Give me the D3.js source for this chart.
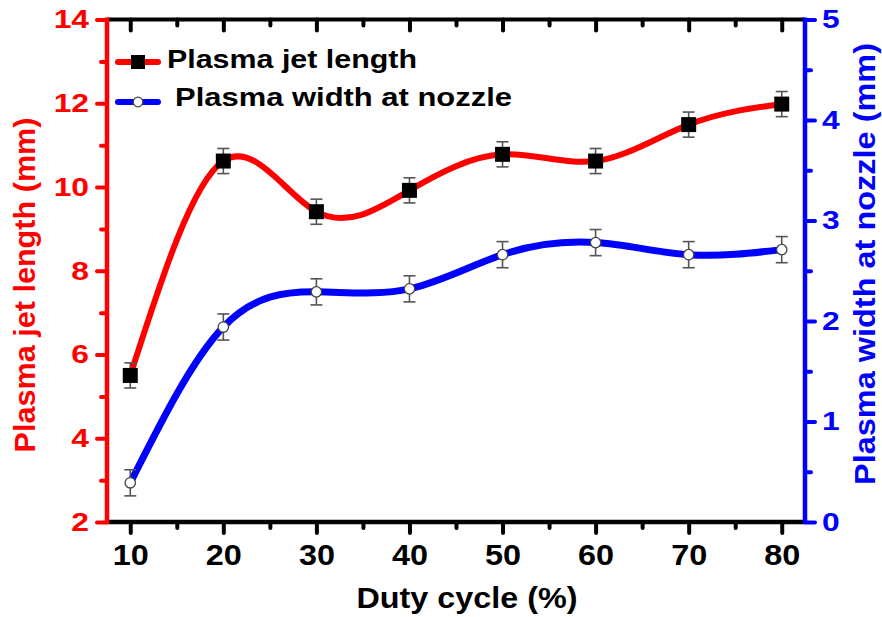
<!DOCTYPE html>
<html><head><meta charset="utf-8">
<script src="https://cdn.jsdelivr.net/npm/d3@7"></script>
<style>body{margin:0;background:#fff}svg{display:block}text{font-family:"Liberation Sans",Arial,sans-serif;font-weight:bold}</style>
</head><body><svg id="c" width="882" height="617"></svg>
<script>
const dutyCycle = [10, 20, 30, 40, 50, 60, 70, 80];
const jetLength = [5.5, 10.62, 9.41, 9.92, 10.78, 10.62, 11.49, 11.98];
const jetLengthErr = [0.3, 0.3, 0.3, 0.3, 0.3, 0.3, 0.3, 0.3];
const nozzleWidth = [0.39, 1.94, 2.29, 2.32, 2.66, 2.78, 2.66, 2.71];
const nozzleWidthErr = [0.13, 0.13, 0.13, 0.13, 0.13, 0.13, 0.13, 0.13];
const xTicks = [10, 20, 30, 40, 50, 60, 70, 80];
const leftTicks = [2, 4, 6, 8, 10, 12, 14];
const rightTicks = [0, 1, 2, 3, 4, 5];
const seriesNames = ["Plasma jet length", "Plasma width at nozzle"];
const xTitle = "Duty cycle (%)";
const yLeftTitle = "Plasma jet length (mm)";
const yRightTitle = "Plasma width at nozzle (mm)";

const svg = d3.select("#c");
const L = 107, R = 805, T = 19.5, B = 522;
const x = d3.scaleLinear().domain([7.5, 82.5]).range([L, R]);
const yL = d3.scaleLinear().domain([2, 14]).range([B, T]);
const yR = d3.scaleLinear().domain([0, 5]).range([B, T]);

const red = "#ff0000", blue = "#0000ff";

function stretch(sel, k) {
  sel.each(function () {
    const w = this.getComputedTextLength();
    d3.select(this).attr("textLength", w * k).attr("lengthAdjust", "spacingAndGlyphs");
  });
}
function styleAxis(g, color, size, k) {
  g.select(".domain").remove();
  g.selectAll("line").attr("stroke", color).attr("stroke-width", 4).attr("stroke-linecap", "round");
  g.selectAll("text").attr("fill", color).style("font-size", size + "px").call(stretch, k);
}
const minorX = d3.range(15, 80, 10);
// bottom axis
const gB = svg.append("g").attr("transform", `translate(0,${B})`);
gB.call(d3.axisBottom(x).tickValues(xTicks).tickSize(11).tickPadding(11).tickFormat(d3.format("d")));
styleAxis(gB, "#000", 30, 1.08);
gB.append("g").call(d3.axisBottom(x).tickValues(minorX).tickSize(6).tickFormat("")).call(g => styleAxis(g, "#000", 30, 1));
// top axis ticks pointing down
const gT = svg.append("g").attr("transform", `translate(0,${T})`);
gT.call(d3.axisTop(x).tickValues(xTicks).tickSize(-11).tickFormat(""));
styleAxis(gT, "#000", 25, 1);
gT.append("g").call(d3.axisTop(x).tickValues(minorX).tickSize(-6).tickFormat("")).call(g => styleAxis(g, "#000", 25, 1));
svg.append("line").attr("x1", L).attr("x2", R).attr("y1", T).attr("y2", T).attr("stroke", "#000").attr("stroke-width", 4);
svg.append("line").attr("x1", L).attr("x2", R).attr("y1", B).attr("y2", B).attr("stroke", "#000").attr("stroke-width", 4.5);

// left axis
const gL = svg.append("g").attr("transform", `translate(${L},0)`);
gL.call(d3.axisLeft(yL).tickValues(leftTicks).tickSize(10).tickPadding(8).tickFormat(d3.format("d")));
styleAxis(gL, red, 26.5, 1.2);
gL.append("g").call(d3.axisLeft(yL).tickValues(d3.range(3, 14, 2)).tickSize(6).tickFormat("")).call(g => styleAxis(g, red, 25, 1));
svg.append("line").attr("x1", L).attr("x2", L).attr("y1", T - 2).attr("y2", B + 2).attr("stroke", red).attr("stroke-width", 4.5);

// right axis
const gR = svg.append("g").attr("transform", `translate(${R},0)`);
gR.call(d3.axisRight(yR).tickValues(rightTicks).tickSize(10).tickPadding(7).tickFormat(d3.format("d")));
styleAxis(gR, blue, 26.5, 1.2);
gR.append("g").call(d3.axisRight(yR).tickValues(d3.range(0.5, 5, 1)).tickSize(6).tickFormat("")).call(g => styleAxis(g, blue, 25, 1));
svg.append("line").attr("x1", R).attr("x2", R).attr("y1", T - 2).attr("y2", B + 2).attr("stroke", blue).attr("stroke-width", 4.5);

// titles
svg.append("text").attr("x", 467).attr("y", 608).attr("text-anchor", "middle").style("font-size", "30px").attr("fill", "#000")
  .attr("textLength", 221).attr("lengthAdjust", "spacingAndGlyphs").text(xTitle);
svg.append("text").attr("transform", `translate(35,285) rotate(-90)`).attr("text-anchor", "middle").style("font-size", "30px").attr("fill", red)
  .attr("textLength", 335).attr("lengthAdjust", "spacingAndGlyphs").text(yLeftTitle);
svg.append("text").attr("transform", `translate(875,264) rotate(-90)`).attr("text-anchor", "middle").style("font-size", "30px").attr("fill", blue)
  .attr("textLength", 442).attr("lengthAdjust", "spacingAndGlyphs").text(yRightTitle);

// lines
const lineL = d3.line().x((d, i) => x(dutyCycle[i])).y(d => yL(d)).curve(d3.curveNatural);
const lineR = d3.line().x((d, i) => x(dutyCycle[i])).y(d => yR(d)).curve(d3.curveNatural);
svg.append("path").attr("d", lineL(jetLength)).attr("fill", "none").attr("stroke", red).attr("stroke-width", 6);
svg.append("path").attr("d", lineR(nozzleWidth)).attr("fill", "none").attr("stroke", blue).attr("stroke-width", 7);

// error bars
function errBars(vals, errs, y) {
  const g = svg.append("g").attr("stroke", "#555").attr("stroke-width", 1.6);
  vals.forEach((v, i) => {
    const cx = x(dutyCycle[i]);
    g.append("line").attr("x1", cx).attr("x2", cx).attr("y1", y(v - errs[i])).attr("y2", y(v + errs[i]));
    [v - errs[i], v + errs[i]].forEach(e => g.append("line").attr("x1", cx - 6).attr("x2", cx + 6).attr("y1", y(e)).attr("y2", y(e)));
  });
}
errBars(jetLength, jetLengthErr, yL);
errBars(nozzleWidth, nozzleWidthErr, yR);

// markers
svg.append("g").selectAll("rect").data(jetLength).join("rect")
  .attr("x", (d, i) => x(dutyCycle[i]) - 7.5).attr("y", d => yL(d) - 7.5).attr("width", 15).attr("height", 15).attr("fill", "#000");
svg.append("g").selectAll("circle").data(nozzleWidth).join("circle")
  .attr("cx", (d, i) => x(dutyCycle[i])).attr("cy", d => yR(d)).attr("r", 5.2).attr("fill", "#fff").attr("stroke", "#444").attr("stroke-width", 1.3);

// legend
const leg = svg.append("g");
leg.append("line").attr("x1", 118).attr("x2", 158).attr("y1", 62).attr("y2", 62).attr("stroke", red).attr("stroke-width", 6).attr("stroke-linecap", "round");
leg.append("rect").attr("x", 131).attr("y", 55).attr("width", 14).attr("height", 14).attr("fill", "#000");
leg.append("text").attr("x", 167).attr("y", 68).style("font-size", "25px").attr("fill", "#000")
  .attr("textLength", 250).attr("lengthAdjust", "spacingAndGlyphs").text(seriesNames[0]);
leg.append("line").attr("x1", 118).attr("x2", 158).attr("y1", 102).attr("y2", 102).attr("stroke", blue).attr("stroke-width", 6).attr("stroke-linecap", "round");
leg.append("circle").attr("cx", 138).attr("cy", 102).attr("r", 4.8).attr("fill", "#fff").attr("stroke", "#444").attr("stroke-width", 1.3);
leg.append("text").attr("x", 175).attr("y", 106).style("font-size", "25px").attr("fill", "#000")
  .attr("textLength", 337).attr("lengthAdjust", "spacingAndGlyphs").text(seriesNames[1]);
</script></body></html>
